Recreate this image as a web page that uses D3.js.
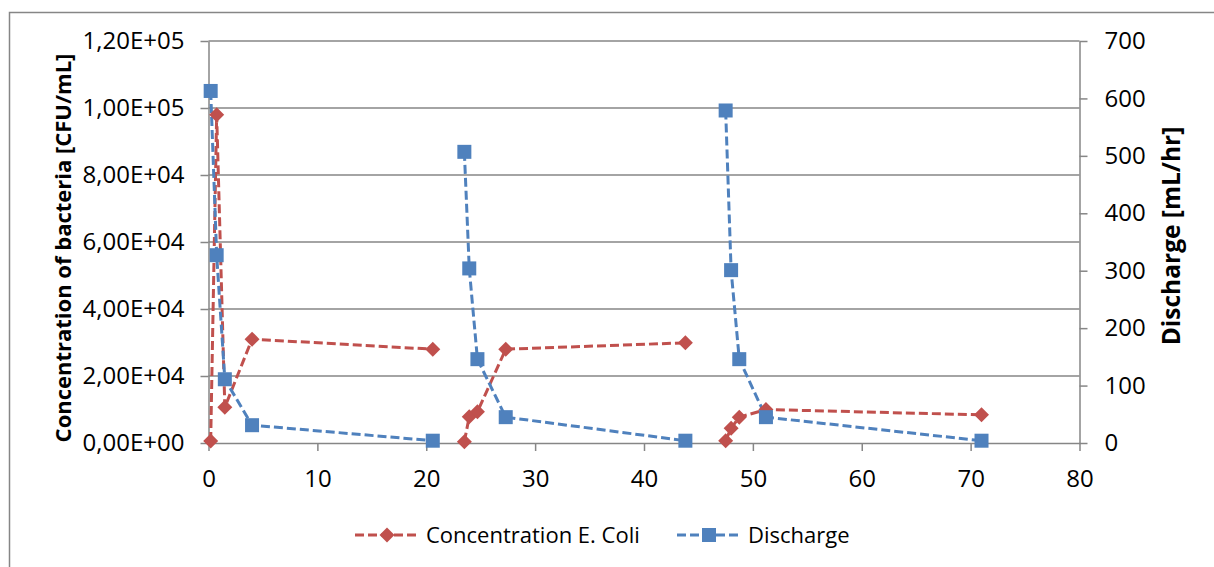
<!DOCTYPE html>
<html>
<head>
<meta charset="utf-8">
<script src="https://cdn.jsdelivr.net/npm/d3@7"></script>
<style>
  body { margin: 0; background: #fff; }
  svg text { font-family: "Open Sans", "Liberation Sans", sans-serif; fill: #000; }
</style>
</head>
<body>
<svg id="chart" width="1214" height="567"></svg>
<script>
// time in hours, null marks a gap between the three runoff events
const hours     = [0.2, 0.75, 1.5, 4.0, 20.6, null, 23.5, 23.95, 24.7, 27.3, 43.8, null, 47.5, 48.0, 48.75, 51.2, 71.0]
const ecoli     = [600, 98000, 10700, 31000, 28000, null, 400, 7850, 9300, 28000, 29900, null, 700, 4400, 7700, 10000, 8400]
const discharge = [613, 327, 111, 31, 4, null, 507, 304, 146, 45, 4, null, 579, 301, 146, 45, 4]

const xTicks = [0, 10, 20, 30, 40, 50, 60, 70, 80]
const yLeftTicks = [0, 20000, 40000, 60000, 80000, 100000, 120000]
const yRightTicks = [0, 100, 200, 300, 400, 500, 600, 700]

const seriesNames = ["Concentration E. Coli", "Discharge"]
const colors = ["#C0504D", "#4F81BD"]

const svg = d3.select("#chart")

const plot = {left: 208.5, right: 1079.5, top: 41, bottom: 443}
const gray = "#868686"

// chart area border (clipped by the picture on right / bottom)
svg.append("rect")
  .attr("x", 9.5).attr("y", 12.5)
  .attr("width", 1300).attr("height", 700)
  .attr("fill", "none").attr("stroke", gray).attr("stroke-width", 1.5)

const x = d3.scaleLinear().domain([0, 80]).range([plot.left, plot.right])
const yL = d3.scaleLinear().domain([0, 120000]).range([plot.bottom, plot.top])
const yR = d3.scaleLinear().domain([0, 700]).range([plot.bottom, plot.top])

// excel style scientific format with comma decimal
function sci(v) {
  if (v === 0) return "0,00E+00"
  const e = Math.floor(Math.log10(v))
  const m = (v / Math.pow(10, e)).toFixed(2).replace(".", ",")
  return m + "E+" + String(e).padStart(2, "0")
}

// gridlines
svg.append("g")
  .selectAll("line")
  .data(yLeftTicks.slice(1))
  .enter().append("line")
    .attr("x1", plot.left).attr("x2", plot.right)
    .attr("y1", d => yL(d)).attr("y2", d => yL(d))
    .attr("stroke", gray).attr("stroke-width", 1.5)

const tickFont = 24
const legendFont = 22

function styleAxis(g) {
  g.select(".domain").attr("stroke", gray).attr("stroke-width", 1.5)
  g.selectAll(".tick line").attr("stroke", gray).attr("stroke-width", 1.5)
  g.selectAll(".tick text").style("font-size", tickFont + "px").attr("fill", "#000")
}

svg.append("g")
  .attr("transform", `translate(0,${plot.bottom})`)
  .call(d3.axisBottom(x).tickValues(xTicks).tickSize(8).tickSizeOuter(0).tickPadding(19))
  .call(styleAxis)

svg.append("g")
  .attr("transform", `translate(${plot.left},0)`)
  .call(d3.axisLeft(yL).tickValues(yLeftTicks).tickFormat(sci).tickSize(8).tickSizeOuter(0).tickPadding(16))
  .call(styleAxis)

svg.append("g")
  .attr("transform", `translate(${plot.right},0)`)
  .call(d3.axisRight(yR).tickValues(yRightTicks).tickSize(8).tickSizeOuter(0).tickPadding(17))
  .call(styleAxis)

// axis titles
svg.append("text")
  .attr("transform", `translate(71,${(plot.top + plot.bottom) / 2 + 6}) rotate(-90)`)
  .attr("text-anchor", "middle")
  .style("font-size", "22px").style("font-weight", "bold")
  .text("Concentration of bacteria [CFU/mL]")

svg.append("text")
  .attr("transform", `translate(1180,${(plot.top + plot.bottom) / 2 - 6}) rotate(-90)`)
  .attr("text-anchor", "middle")
  .style("font-size", "24.5px").style("font-weight", "bold")
  .text("Discharge [mL/hr]")

// series
const rows = hours.map((h, i) => ({h: h, c: ecoli[i], q: discharge[i]}))

const dash = "9,4"
const diamond = "M0,-7.5L7.5,0L0,7.5L-7.5,0Z"

const lineC = d3.line().defined(d => d.h != null && d.c != null).x(d => x(d.h)).y(d => yL(d.c))
const lineQ = d3.line().defined(d => d.h != null && d.q != null).x(d => x(d.h)).y(d => yR(d.q))

svg.append("path").datum(rows)
  .attr("d", lineC).attr("fill", "none")
  .attr("stroke", colors[0]).attr("stroke-width", 3).attr("stroke-dasharray", dash)

svg.append("path").datum(rows)
  .attr("d", lineQ).attr("fill", "none")
  .attr("stroke", colors[1]).attr("stroke-width", 3).attr("stroke-dasharray", dash)

svg.append("g").selectAll("path")
  .data(rows.filter(d => d.h != null))
  .enter().append("path")
    .attr("d", diamond)
    .attr("transform", d => `translate(${x(d.h)},${yL(d.c)})`)
    .attr("fill", colors[0])

svg.append("g").selectAll("rect")
  .data(rows.filter(d => d.h != null))
  .enter().append("rect")
    .attr("x", d => x(d.h) - 7).attr("y", d => yR(d.q) - 7)
    .attr("width", 14).attr("height", 14)
    .attr("fill", colors[1])

// legend
const legendY = 535
const legend = [
  {name: seriesNames[0], color: colors[0], x: 355, marker: "diamond"},
  {name: seriesNames[1], color: colors[1], x: 677, marker: "square"}
]
legend.forEach(l => {
  const g = svg.append("g")
  g.append("line")
    .attr("x1", l.x).attr("x2", l.x + 65)
    .attr("y1", legendY).attr("y2", legendY)
    .attr("stroke", l.color).attr("stroke-width", 3).attr("stroke-dasharray", dash)
  if (l.marker === "diamond") {
    g.append("path").attr("d", diamond)
      .attr("transform", `translate(${l.x + 32},${legendY})`).attr("fill", l.color)
  } else {
    g.append("rect").attr("x", l.x + 32 - 7).attr("y", legendY - 7)
      .attr("width", 14).attr("height", 14).attr("fill", l.color)
  }
  g.append("text")
    .attr("x", l.x + 71).attr("y", legendY + 8)
    .style("font-size", legendFont + "px")
    .text(l.name)
})
</script>
</body>
</html>
